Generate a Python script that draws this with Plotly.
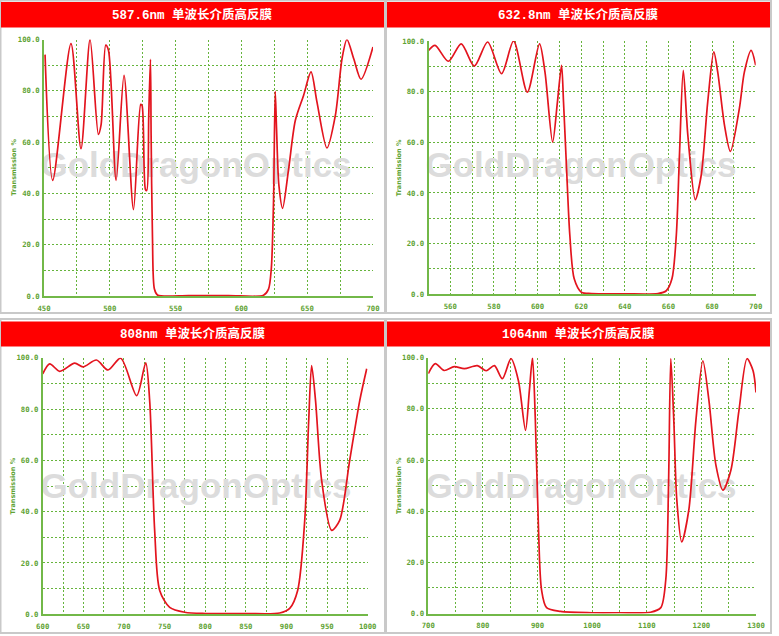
import plotly.graph_objects as go

# ---------------- data ----------------
TITLES = ["587.6nm 单波长介质高反膜", "632.8nm 单波长介质高反膜",
          "808nm 单波长介质高反膜", "1064nm 单波长介质高反膜"]
Y_TITLE = "Transmission %"
WATERMARK = "GoldDragonOptics"
Y_LABELS = [0, 20, 40, 60, 80, 100]

P1_WL = [450.8, 456.6, 470.5, 478.1, 485, 491.3, 493.4, 496.9, 499, 504.8, 510.8, 518, 523.5, 524.5,
         527.1, 528.1, 529.6, 530.9, 531.4, 532.4, 533.9, 536.2, 560, 590, 616.8, 620.6, 622.7, 624.4,
         625.7, 626.7, 628.5, 631.3, 635.9, 641, 647.3, 652.9, 657.4, 665, 671.4, 676.5, 680.2, 685.3,
         690.9, 700]
P1_T = [94.1, 45.1, 98.4, 57.4, 100, 63, 66.8, 97.8, 95.8, 45.1, 86, 33.7, 74.7, 74.3,
        41.5, 41.1, 70.4, 92.3, 62.6, 23.6, 2.7, 0.4, 0.2, 0.2, 0.3, 2.7, 10.5, 36.6,
        79.8, 65.2, 43.1, 34.2, 49.6, 68.5, 78.3, 87.4, 75.7, 57.7, 70.4, 92.6, 100, 92.6,
        84.5, 97.1]

P2_WL = [550, 553, 559.1, 565, 571, 577.1, 583.5, 589, 595.3, 600.9, 603.4, 606.9, 609.1, 611,
         611.9, 613.3, 614.8, 616.8, 620.1, 624.7, 640, 655.2, 659, 661.6, 663.6, 665.1, 666.8,
         668.9, 672.3, 675, 678, 680.8, 682.6, 685.7, 688.4, 692.5, 694.8, 697.9, 700]
P2_T = [96.3, 98.3, 92, 98.9, 90.1, 99.6, 87.1, 100, 79.8, 98.9, 87.7, 60.1, 75.9, 90.4,
        75.9, 49.5, 23.2, 6.1, 0.8, 0.3, 0.2, 0.3, 1.4, 6.1, 23.2, 56.1, 88.4,
        62.7, 37.4, 46.9, 75.9, 95.7, 87.7, 66.7, 56.4, 73.3, 87.7, 96.3, 90.4]

P3_WL = [600, 608.6, 620.9, 639.4, 649.6, 666.1, 680.4, 696, 715.7, 726.8, 731.7, 737.8, 744,
         756.3, 774.8, 800, 850, 891.7, 904, 913.8, 922.5, 927.4, 931, 935.8, 943.4, 955.7,
         965.5, 977.8, 990.2, 998.8]
P3_T = [93.7, 97.6, 94.7, 97.9, 96.4, 99.1, 95.2, 99.8, 85.2, 98, 83, 32.7, 9.3,
        2.7, 0.8, 0.3, 0.3, 0.5, 2.3, 9.3, 36.6, 75.5, 96.9, 83.3, 52, 32.7,
        36.6, 59.9, 83.3, 95.7]

P4_WL = [700, 712.8, 729, 747.5, 765.9, 789.7, 806, 821, 835.6, 851.4, 865, 878, 885, 890.8,
         896, 901.8, 907.3, 916.5, 942, 1000, 1050, 1107, 1125.7, 1134.8, 1140, 1144, 1149.5,
         1155, 1164, 1177, 1190, 1202.7, 1213.8, 1226.6, 1239.4, 1254, 1268.8, 1283.5, 1294.5, 1300]
P4_T = [93.8, 97.7, 95, 96.5, 95.7, 96.9, 94.9, 96.9, 91.8, 99.6, 91, 71.6, 87, 100,
        75.5, 32.7, 9.3, 2.3, 0.8, 0.3, 0.3, 0.5, 2.3, 13.2, 52, 99.6, 75.5,
        44.4, 28, 40.5, 75.5, 98.8, 83.3, 58, 48.2, 56, 79.4, 99.6, 95, 86.4]

P1_XLABELS = [450, 500, 550, 600, 650, 700]
P2_XLABELS = [560, 580, 600, 620, 640, 660, 680, 700]
P3_XLABELS = [600, 650, 700, 750, 800, 850, 900, 950, 1000]
P4_XLABELS = [700, 800, 900, 1000, 1100, 1200, 1300]

# ---------------- layout constants ----------------
W, H = 779, 636
GREEN_TXT = "#5fa334"
GREEN_LINE = "#72b848"
GRID = "#66b43c"
RED = "#e3141e"

def px(x):
    return x / W

def py(y):
    return 1 - y / H

panels = [
    dict(wl=P1_WL, t=P1_T, xr=[450, 700], step=25, labels=P1_XLABELS,
         dom=(44, 373, 39.5, 296), bar=(1, 2, 384, 27.5), box=(0.5, 0.5, 385, 313),
         wm=(196, 168), yt=14),
    dict(wl=P2_WL, t=P2_T, xr=[550, 700], step=10, labels=P2_XLABELS,
         dom=(428.5, 755.7, 41, 294.3), bar=(387, 2, 770, 27.5), box=(386, 0.5, 771, 313),
         wm=(581, 168), yt=398.5),
    dict(wl=P3_WL, t=P3_T, xr=[600, 1000], step=25, labels=P3_XLABELS,
         dom=(42.7, 367.7, 357.7, 614.3), bar=(1, 321.5, 384, 346.5), box=(0.5, 319, 385, 633),
         wm=(196, 489), yt=12.5),
    dict(wl=P4_WL, t=P4_T, xr=[700, 1300], step=50, labels=P4_XLABELS,
         dom=(428.3, 756, 357.7, 613.5), bar=(387, 321.5, 770, 346.5), box=(386, 319, 771, 633),
         wm=(581, 489), yt=398.5),
]

fig = go.Figure()
shapes = []
annotations = []
tickfont = dict(family="DejaVu Sans Mono", size=7.3, color=GREEN_TXT, weight="bold")

for i, p in enumerate(panels):
    n = "" if i == 0 else str(i + 1)
    xa, ya = "x" + n, "y" + n
    l, r, t, b = p["dom"]
    x0, x1 = p["xr"]
    # watermark (drawn first, under the curve)
    cx, cy = p["wm"]
    wx = x0 + (cx - l) / (r - l) * (x1 - x0)
    wy = 100 * (b - cy) / (b - t)
    fig.add_trace(go.Scatter(x=[wx], y=[wy], mode="text", text=["<b>" + WATERMARK + "</b>"],
                             textfont=dict(family="Liberation Sans", size=35, color="#dcdcdc"),
                             textposition="middle center", cliponaxis=False, hoverinfo="skip",
                             xaxis=xa, yaxis=ya, showlegend=False))
    fig.add_trace(go.Scatter(x=p["wl"], y=p["t"], mode="lines",
                             line=dict(color=RED, width=1.7, shape="spline", smoothing=0.8),
                             xaxis=xa, yaxis=ya, showlegend=False))
    gridvals = list(range(x0, x1 + 1, p["step"]))
    ticktext = [str(v) if v in p["labels"] else "" for v in gridvals]
    yvals = list(range(0, 101, 10))
    ytext = [f"{v:.1f}" if v in Y_LABELS else "" for v in yvals]
    common = dict(showgrid=True, gridcolor=GRID, gridwidth=1.4, griddash="2px,2px",
                  showline=True, linecolor=GREEN_LINE, linewidth=1.6, zeroline=False,
                  tickfont=tickfont, ticks="outside", tickcolor="rgba(0,0,0,0)",
                  fixedrange=True, mirror=False, automargin=False)
    fig.layout["xaxis" + n] = dict(domain=[px(l), px(r)], range=[x0, x1], anchor=ya,
                                   tickmode="array", tickvals=gridvals, ticktext=ticktext,
                                   ticklen=4, **common)
    fig.layout["yaxis" + n] = dict(domain=[py(b), py(t)], range=[0, 100], anchor=xa,
                                   tickmode="array", tickvals=yvals, ticktext=ytext,
                                   ticklen=1, **common)
    # panel box
    bx0, by0, bx1, by1 = p["box"]
    shapes.append(dict(type="rect", xref="paper", yref="paper", x0=px(bx0), x1=px(bx1),
                       y0=py(by1), y1=py(by0), line=dict(color="#c9c9c9", width=2),
                       fillcolor="rgba(0,0,0,0)", layer="below"))
    # red title bar
    rx0, ry0, rx1, ry1 = p["bar"]
    shapes.append(dict(type="rect", xref="paper", yref="paper", x0=px(rx0), x1=px(rx1),
                       y0=py(ry1), y1=py(ry0), line=dict(width=0), fillcolor="#ff0000",
                       layer="above"))
    annotations.append(dict(xref="paper", yref="paper", x=px((rx0 + rx1) / 2),
                            y=py((ry0 + ry1) / 2), text="<b>" + TITLES[i] + "</b>",
                            showarrow=False, xanchor="center", yanchor="middle",
                            font=dict(family="Liberation Mono, Noto Sans CJK SC", size=12.5,
                                      color="white")))
    annotations.append(dict(xref="paper", yref="paper", x=px(p["yt"]), y=py((t + b) / 2),
                            text="<b>" + Y_TITLE + "</b>", textangle=-90, showarrow=False,
                            xanchor="center", yanchor="middle",
                            font=dict(family="DejaVu Sans", size=6.5, color=GREEN_TXT)))

fig.update_layout(width=W, height=H, margin=dict(l=0, r=0, t=0, b=0),
                  paper_bgcolor="white", plot_bgcolor="white", showlegend=False,
                  shapes=shapes, annotations=annotations)

fig.write_html("out.html", config={"displayModeBar": False},
               post_script="document.body.style.margin='0';document.body.style.padding='0';")
